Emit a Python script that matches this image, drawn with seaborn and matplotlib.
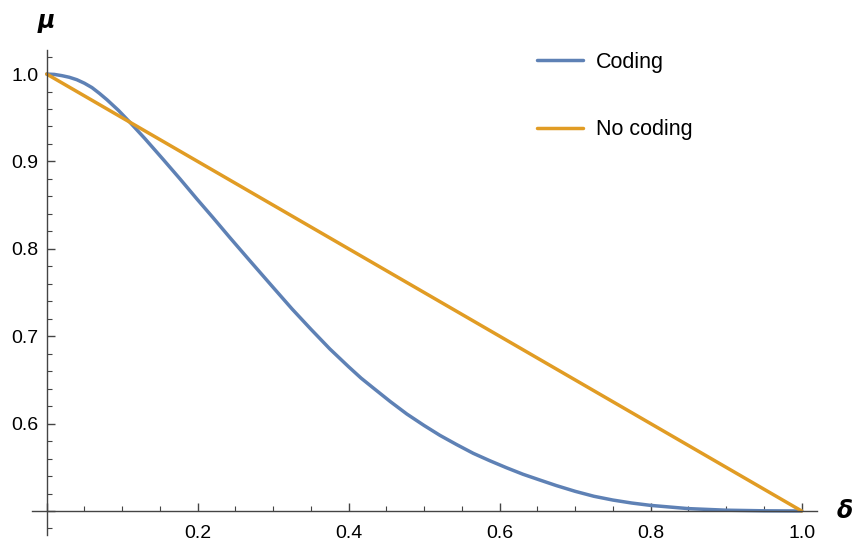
import numpy as np
import pandas as pd
import matplotlib.pyplot as plt
import seaborn as sns
from matplotlib.ticker import MultipleLocator, FuncFormatter

# values
delta_coding = [0.0, 0.01, 0.02, 0.03, 0.04, 0.05, 0.06, 0.07, 0.08, 0.095, 0.11, 0.13,
                0.155, 0.177, 0.199, 0.22, 0.243, 0.27, 0.30, 0.325, 0.35, 0.375, 0.40,
                0.4165, 0.433, 0.455, 0.477, 0.50, 0.521, 0.543, 0.565, 0.587, 0.609,
                0.631, 0.653, 0.675, 0.70, 0.725, 0.75, 0.775, 0.80, 0.85, 0.90, 0.95, 1.0]
mu_coding = [1.0, 0.9996, 0.9982, 0.9963, 0.9935, 0.9895, 0.9845, 0.9778, 0.9705, 0.9585, 0.945, 0.9262,
             0.9016, 0.8796, 0.857, 0.836, 0.8125, 0.7855, 0.7558, 0.7312, 0.708, 0.6855, 0.665,
             0.652, 0.6405, 0.6253, 0.611, 0.5978, 0.5865, 0.576, 0.566, 0.5575, 0.5495,
             0.542, 0.5355, 0.5291, 0.5225, 0.5168, 0.5125, 0.5091, 0.5064, 0.5027, 0.5009, 0.5002, 0.5]
delta_nocoding = [0.0, 1.0]
mu_nocoding = [1.0, 0.5]

blue = '#5E81B5'
orange = '#E19C24'

sns.set_style('white')
plt.rcParams['font.family'] = ['Liberation Sans', 'DejaVu Sans']
plt.rcParams['text.color'] = 'black'
plt.rcParams['xtick.labelcolor'] = 'black'
plt.rcParams['ytick.labelcolor'] = 'black'

df_c = pd.DataFrame({'delta': delta_coding, 'mu': mu_coding})
df_n = pd.DataFrame({'delta': delta_nocoding, 'mu': mu_nocoding})

fig = plt.figure(figsize=(8.56, 5.42), dpi=100)
ax = fig.add_axes([0.037, 0.0129, 0.917, 0.8948])

sns.lineplot(data=df_c, x='delta', y='mu', ax=ax, color=blue, lw=2.5, label='Coding')
sns.lineplot(data=df_n, x='delta', y='mu', ax=ax, color=orange, lw=2.5, label='No coding')

ax.set_xlim(-0.0199, 1.0199)
ax.set_ylim(0.4725, 1.0275)

# axes crossing at (0, 0.5)
ax.spines['left'].set_position(('data', 0))
ax.spines['bottom'].set_position(('data', 0.5))
ax.spines['top'].set_visible(False)
ax.spines['right'].set_visible(False)
for s in ['left', 'bottom']:
    ax.spines[s].set_color('#444444')
    ax.spines[s].set_linewidth(1.0)

ax.xaxis.set_major_locator(MultipleLocator(0.2))
ax.xaxis.set_minor_locator(MultipleLocator(0.05))
ax.yaxis.set_major_locator(MultipleLocator(0.1))
ax.yaxis.set_minor_locator(MultipleLocator(0.02))
ax.xaxis.set_major_formatter(FuncFormatter(lambda v, p: '' if abs(v) < 1e-9 else f'{v:.1f}'))
ax.yaxis.set_major_formatter(FuncFormatter(lambda v, p: '' if abs(v - 0.5) < 1e-9 else f'{v:.1f}'))

ax.tick_params(axis='both', which='both', direction='in', color='#444444',
               labelsize=14, bottom=True, left=True)
ax.tick_params(axis='both', which='major', length=6, width=1)
ax.tick_params(axis='both', which='minor', length=3.5, width=0.8)
ax.tick_params(axis='x', which='major', pad=10)
ax.tick_params(axis='y', which='major', pad=6)

ax.set_xlabel('')
ax.set_ylabel('')
ax.text(0, 1.0606, 'μ', fontsize=17, fontweight='bold', fontstyle='italic',
        ha='center', va='center', family=['DejaVu Sans'])
ax.text(1.057, 0.5, 'δ', fontsize=17, fontweight='bold', fontstyle='italic',
        ha='center', va='center', family=['DejaVu Sans'])

ax.legend(loc='upper left', bbox_to_anchor=(537 / 856, 1 - 52 / 542),
          bbox_transform=fig.transFigure, frameon=False, fontsize=15.5,
          handlelength=2.14, handletextpad=0.6, labelspacing=2.16,
          borderpad=0, borderaxespad=0)

plt.savefig('out.png', dpi=100)
